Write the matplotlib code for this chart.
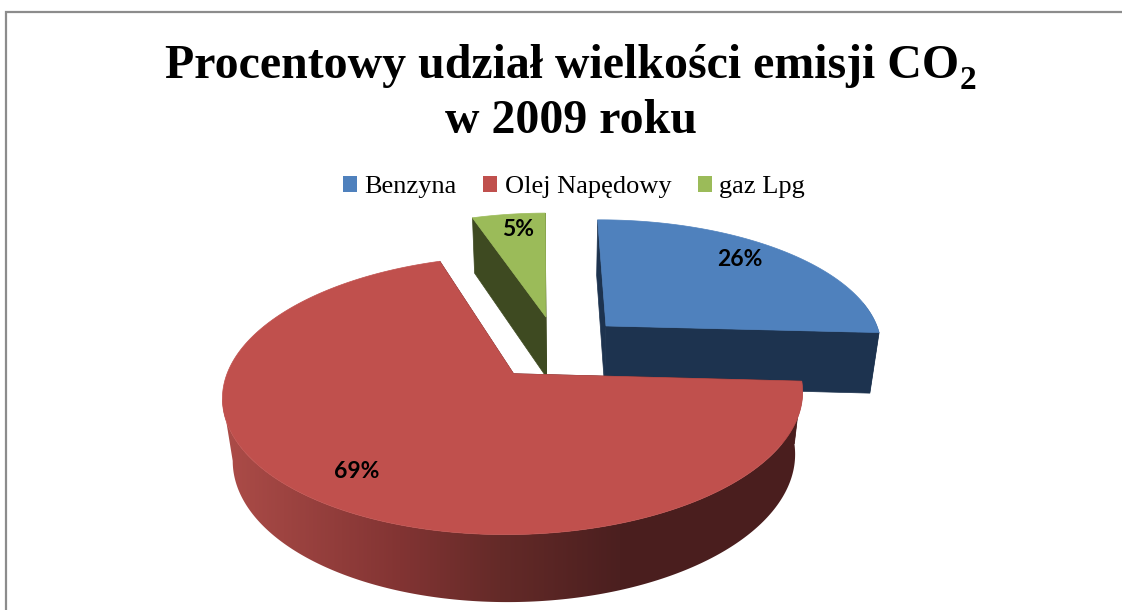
import numpy as np
import matplotlib
matplotlib.use('Agg')
import matplotlib.pyplot as plt
from matplotlib.patches import Patch, Polygon

categories = ['Benzyna', 'Olej Napędowy', 'gaz Lpg']
values = [26, 69, 5]
title_lines = ['Procentowy udział wielkości emisji CO', 'w 2009 roku']
title_sub = '2'

top_colors = ['#4F81BD', '#C0504D', '#9BBB59']
side_colors = ['#1D334F', None, '#3E4A21']
# red rim gets darker from left to right
rim_x = [225, 400, 500, 620, 800]
rim_rgb = [(172, 76, 72), (130, 52, 51), (100, 42, 40), (75, 31, 31), (74, 30, 30)]
label_pos = [(740, 260), (357, 472), (518, 229)]

# projection of the pie, all in pixels
START = 90.5
CX, CY = 557, 347.5
RX, RY = 278, 128
PERSP = 0.15
DEPTH = 63
DEPTH_PERSP = 0.03
EXPLODE = 0.25

plt.rcParams['font.family'] = ['Liberation Serif', 'DejaVu Sans']


def project(x, y, d=0.0):
    s = 1.0 / (1 + PERSP * y + DEPTH_PERSP * d)
    return np.column_stack((CX + RX * x * s, CY - RY * y * s + DEPTH * d * s))


def rim_image():
    xs = np.arange(200, 820)
    return np.stack([np.interp(xs, rim_x, [c[i] for c in rim_rgb]) / 255 for i in range(3)], axis=1)[np.newaxis, :, :]


def draw_slice(ax, start, stop, top, side, z):
    mid = np.radians((start + stop) / 2)
    ox, oy = EXPLODE * np.cos(mid), EXPLODE * np.sin(mid)
    th = np.radians(np.linspace(start, stop, 300))
    ex, ey = ox + np.cos(th), oy + np.sin(th)

    up = project(ex, ey, 0)
    # rim stops at the silhouette on the left, so its end edge is the outline
    front = (np.sin(th) < 0.2) & ((np.cos(th) > 0) | (np.sin(th) < -0.17))
    if front.sum() > 1:
        low = project(ex[front], ey[front], 1)
        rim = Polygon(np.vstack((up[front], low[::-1])), fc=side if side else 'none', ec='none', zorder=z)
        ax.add_patch(rim)
        if side is None:
            # shaded rim, gradient clipped to the rim outline
            img = ax.imshow(rim_image(), extent=(200, 820, 620, 0), aspect='auto', zorder=z, interpolation='bilinear')
            img.set_clip_path(rim)

    # the two cut faces
    wall = side if side else '#4A1E1E'
    for i in (0, -1):
        p = project(np.array([ox, ex[i]]), np.array([oy, ey[i]]), 0)
        q = project(np.array([ox, ex[i]]), np.array([oy, ey[i]]), 1)
        ax.add_patch(Polygon([p[0], p[1], q[1], q[0]], fc=wall, ec=wall, lw=0.5, zorder=z + 0.1))

    face = np.vstack((project(np.array([ox]), np.array([oy])), up))
    ax.add_patch(Polygon(face, fc=top, ec=top, lw=0.5, zorder=z + 0.2))


fig = plt.figure(figsize=(11.22, 6.10), dpi=100)
ax = fig.add_axes([0, 0, 1, 1])
ax.axis('off')

# frame, only left and top are inside the picture
ax.plot([6.5, 6.5, 1122], [610, 12, 12], color='#8C8C8C', lw=1.6, solid_joinstyle='miter')

ax.text(165, 78, title_lines[0], fontsize=34.5, fontweight='bold', ha='left', va='baseline', color='black')
ax.text(968, 89, title_sub, fontsize=24, fontweight='bold', ha='center', va='baseline', color='black')
ax.text(571, 133, title_lines[1], fontsize=34.5, fontweight='bold', ha='center', va='baseline', color='black')

# slices run clockwise from 12 o'clock
edges = START - np.cumsum([0] + values) * 3.6
for z, i in enumerate((2, 0, 1)):
    draw_slice(ax, edges[i], edges[i + 1], top_colors[i], side_colors[i], 2 + z)

for v, (lx, ly) in zip(values, label_pos):
    ax.text(lx, ly, f'{v}%', fontsize=16.5, fontweight='bold', family=['Lato', 'DejaVu Sans'],
            ha='center', va='center', color='black', zorder=10)

handles = [Patch(fc=c, ec='none', label=n) for c, n in zip(top_colors, categories)]
ax.legend(handles=handles, ncols=3, frameon=False, loc='center', bbox_to_anchor=(574, 187),
          bbox_transform=ax.transData, fontsize=19, handlelength=0.53, handleheight=0.55,
          handletextpad=0.28, columnspacing=1.0, borderpad=0, labelcolor='black')

ax.set_xlim(0, 1122)
ax.set_ylim(610, 0)

fig.savefig('out.png', dpi=100)
